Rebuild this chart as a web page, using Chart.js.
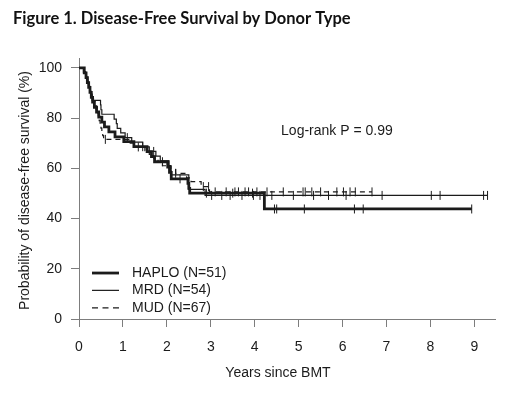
<!DOCTYPE html>
<html>
<head>
<meta charset="utf-8">
<script src="https://cdn.jsdelivr.net/npm/chart.js@4.4.1/dist/chart.umd.min.js"></script>
<style>
html,body{margin:0;padding:0;background:#fff;}
canvas{display:block;}
</style>
</head>
<body>
<canvas id="c" width="520" height="396"></canvas>
<script>
// ---- data ----
const seriesNames = ["HAPLO (N=51)", "MRD (N=54)", "MUD (N=67)"];

const haploTimes = [0,0.12,0.16,0.19,0.22,0.25,0.28,0.31,0.35,0.40,0.45,0.52,0.58,0.68,0.82,1.02,1.25,1.55,1.65,1.72,2.02,2.06,2.10,2.48,2.50,2.52,4.22,8.94];
const haploSurv  = [100,98,96.1,94.1,92.2,90.2,88.2,86.3,84.3,82.4,80.4,78.4,76.5,74.5,72.5,70.6,68.6,66.6,64.6,62.6,60.5,58.4,55.8,54,52,50.1,43.8,43.8];
const haploCens  = [1.45,1.9,2.3,2.9,3.5,3.95,4.45,4.5,5.13,6.27,6.47,8.94];

const mrdTimes = [0,0.10,0.17,0.20,0.22,0.25,0.27,0.30,0.49,0.50,0.52,0.80,0.85,0.87,0.95,1.05,1.20,1.45,1.60,1.75,1.85,2.05,2.08,2.10,2.50,2.87,9.30];
const mrdSurv  = [100,98.1,96.3,94.4,92.6,90.7,88.9,87,85.2,83.3,81.5,79.6,77.8,75.9,74.1,72.2,70.4,68.5,66.7,64.8,63,61.1,59.3,57.4,51.6,49.2,49.2];
const mrdCens  = [1.1,1.7,3.02,3.25,3.44,3.71,3.97,4.12,4.39,4.88,5.34,5.68,6.08,6.9,8.02,8.22,9.21,9.3];

const mudTimes = [0,0.12,0.15,0.18,0.20,0.22,0.25,0.27,0.30,0.33,0.36,0.39,0.42,0.44,0.46,0.48,0.50,0.52,0.54,0.56,1.15,1.30,1.50,1.60,1.70,1.80,1.90,2.10,2.20,2.45,2.55,2.78,2.97,6.67];
const mudSurv  = [100,98.5,97,95.5,94,92.5,91,89.5,88,86.5,85,83.5,82,80.5,79,77.5,76,74.5,73,71.5,70,68.5,67,65.5,64,62.5,61,59.5,58,56.2,54.7,52.7,50.6,50.6];
const mudCens  = [0.6,1.35,2.2,2.83,2.95,3.10,3.35,3.55,3.63,3.78,3.86,4.05,4.28,4.65,5.1,5.15,5.3,5.5,5.87,6.02,6.17,6.29,6.67];

const xTickValues = [0,1,2,3,4,5,6,7,8,9];
const yTickValues = [0,20,40,60,80,100];
const xMax = 9.47;
const yMax = 103.9;

const titleText = "Figure 1. Disease-Free Survival by Donor Type";
const xTitle = "Years since BMT";
const yTitle = "Probability of disease-free survival (%)";
const pText = "Log-rank P = 0.99";

// ---- helpers ----
function stepPoints(times, surv){ return times.map((t,i)=>({x:t,y:surv[i]})); }
function survAt(times, surv, t){
  let v = surv[0];
  for (let i=0;i<times.length;i++){ if (times[i] <= t) v = surv[i]; }
  return v;
}
function censPoints(times, surv, cens){ return cens.map(t=>({x:t,y:survAt(times,surv,t)})); }

const styles = [
  {w:2.8, dash:[]},
  {w:1.2, dash:[]},
  {w:1.2, dash:[5,4]}
];
const ink = '#1b1b1b';
const axisCol = '#7d7d7d';
const font = "'Liberation Sans', Arial, sans-serif";

function lineDs(label, pts, st){
  return {type:'line', label, data:pts, stepped:true, borderColor:ink, borderWidth:st.w, borderDash:st.dash,
          pointRadius:0, fill:false, order:1};
}
function censDs(pts){
  return {type:'line', data:pts, showLine:false, pointStyle:'line', rotation:90, pointRadius:4.5,
          borderColor:ink, backgroundColor:ink, pointBorderWidth:1, borderWidth:1, order:2};
}

const datasets = [
  lineDs(seriesNames[0], stepPoints(haploTimes,haploSurv), styles[0]),
  lineDs(seriesNames[1], stepPoints(mrdTimes,mrdSurv), styles[1]),
  lineDs(seriesNames[2], stepPoints(mudTimes,mudSurv), styles[2]),
  censDs(censPoints(haploTimes,haploSurv,haploCens)),
  censDs(censPoints(mrdTimes,mrdSurv,mrdCens)),
  censDs(censPoints(mudTimes,mudSurv,mudCens))
];

const textPlugin = {
  id:'texts',
  afterDraw(chart){
    const ctx = chart.ctx, ca = chart.chartArea;
    const xs = chart.scales.x, ys = chart.scales.y;
    ctx.save();
    // title
    ctx.fillStyle = '#111';
    ctx.font = "bold 16.5px Lato, 'Open Sans', sans-serif";
    ctx.textAlign = 'left'; ctx.textBaseline = 'alphabetic';
    ctx.fillText(titleText, 13, 23.5);
    // log-rank
    ctx.fillStyle = ink;
    ctx.font = "14px " + font;
    ctx.fillText(pText, xs.getPixelForValue(4.6), ys.getPixelForValue(73.3));
    // x title
    ctx.textAlign = 'center'; ctx.textBaseline = 'middle';
    ctx.fillText(xTitle, xs.getPixelForValue(4.53), ca.bottom + 54);
    // y title
    ctx.save();
    ctx.translate(25, (ca.top+ca.bottom)/2 + 2);
    ctx.rotate(-Math.PI/2);
    ctx.fillText(yTitle, 0, 0);
    ctx.restore();
    // legend
    const rows = [ys.getPixelForValue(18.3), ys.getPixelForValue(11.4), ys.getPixelForValue(4.4)];
    const x0 = ca.left + 13, x1 = ca.left + 40, xt = ca.left + 53;
    for (let i=0;i<3;i++){
      ctx.beginPath();
      ctx.strokeStyle = ink;
      ctx.lineWidth = styles[i].w;
      ctx.setLineDash(i===2 ? [6,4.5] : []);
      ctx.moveTo(x0, rows[i]); ctx.lineTo(x1, rows[i]);
      ctx.stroke();
      ctx.setLineDash([]);
      ctx.textAlign = 'left'; ctx.textBaseline = 'middle';
      ctx.fillText(seriesNames[i], xt, rows[i]);
    }
    ctx.restore();
  }
};

new Chart(document.getElementById('c'), {
  data:{datasets},
  options:{
    responsive:false, animation:false, devicePixelRatio:1,
    layout:{padding:{top:58,right:25,left:0,bottom:0}},
    plugins:{legend:{display:false}, tooltip:{enabled:false}, title:{display:false}},
    scales:{
      x:{type:'linear', min:0, max:xMax,
         afterBuildTicks:s=>{s.ticks = xTickValues.map(v=>({value:v}));},
         afterFit:s=>{s.height = 77;},
         grid:{drawOnChartArea:false, drawTicks:true, tickLength:8, color:axisCol, lineWidth:1},
         border:{display:true, color:axisCol, width:1},
         ticks:{color:ink, font:{family:font, size:14}, padding:12, maxRotation:0, autoSkip:false}},
      y:{type:'linear', min:0, max:yMax,
         afterBuildTicks:s=>{s.ticks = yTickValues.map(v=>({value:v}));},
         afterFit:s=>{s.width = 79;},
         grid:{drawOnChartArea:false, drawTicks:true, tickLength:8, color:axisCol, lineWidth:1},
         border:{display:true, color:axisCol, width:1},
         ticks:{color:ink, font:{family:font, size:14}, padding:9, autoSkip:false}}
    }
  },
  plugins:[textPlugin]
});
</script>
</body>
</html>
